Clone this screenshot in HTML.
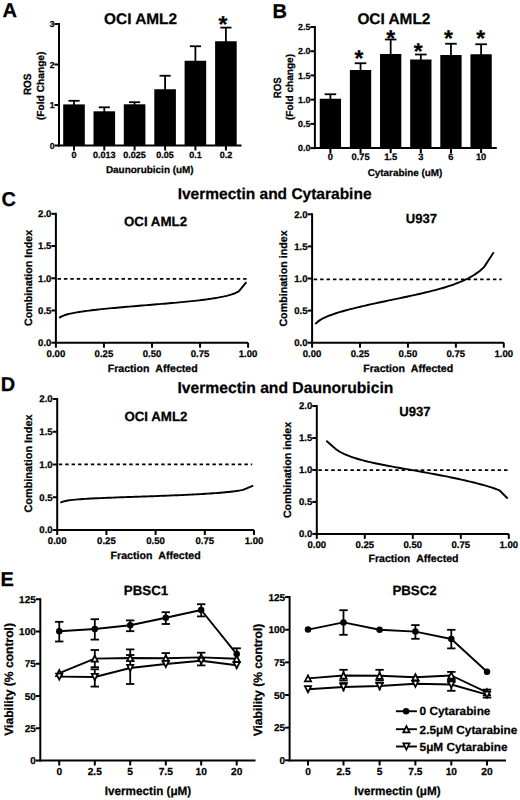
<!DOCTYPE html><html><head><meta charset="utf-8"><style>html,body{margin:0;padding:0;background:#fff;width:520px;height:800px;overflow:hidden}svg{display:block}text{font-family:"Liberation Sans", sans-serif;font-weight:bold;fill:#000;stroke:#000;stroke-width:0.25px;text-rendering:geometricPrecision}</style></head><body>
<svg width="520" height="800" viewBox="0 0 520 800" stroke="#000" stroke-linecap="butt">
<rect x="0" y="0" width="520" height="800" fill="#fff" stroke="none"/>
<g stroke="none">
<text x="2.6" y="17.1" font-size="20" text-anchor="start">A</text>
<text x="272.6" y="17.8" font-size="20" text-anchor="start">B</text>
<text x="1.5" y="205.9" font-size="20" text-anchor="start">C</text>
<text x="0.7" y="390.9" font-size="20" text-anchor="start">D</text>
<text x="0.4" y="585.8" font-size="20" text-anchor="start">E</text>
</g>
<g>
<line x1="59" y1="23" x2="59" y2="146.5" stroke-width="2"/>
<line x1="54.5" y1="145.5" x2="59" y2="145.5" stroke-width="2"/>
<text x="54.5" y="148.54" font-size="8.7" text-anchor="end">0</text>
<line x1="54.5" y1="105" x2="59" y2="105" stroke-width="2"/>
<text x="54.5" y="108.05" font-size="8.7" text-anchor="end">1</text>
<line x1="54.5" y1="64.5" x2="59" y2="64.5" stroke-width="2"/>
<text x="54.5" y="67.55" font-size="8.7" text-anchor="end">2</text>
<line x1="54.5" y1="24" x2="59" y2="24" stroke-width="2"/>
<text x="54.5" y="27.04" font-size="8.7" text-anchor="end">3</text>
<rect x="63.2" y="104.4" width="21.6" height="41.1" stroke="none"/>
<line x1="74" y1="100.8" x2="74" y2="105.4" stroke-width="1.8"/>
<line x1="68.4" y1="100.8" x2="79.6" y2="100.8" stroke-width="1.8"/>
<rect x="93.5" y="111.3" width="21.6" height="34.2" stroke="none"/>
<line x1="104.3" y1="107.3" x2="104.3" y2="112.3" stroke-width="1.8"/>
<line x1="98.7" y1="107.3" x2="109.9" y2="107.3" stroke-width="1.8"/>
<rect x="123.8" y="104.3" width="21.6" height="41.2" stroke="none"/>
<line x1="134.6" y1="102.2" x2="134.6" y2="105.3" stroke-width="1.8"/>
<line x1="129" y1="102.2" x2="140.2" y2="102.2" stroke-width="1.8"/>
<rect x="154.3" y="89.25" width="21.6" height="56.25" stroke="none"/>
<line x1="165.1" y1="75.75" x2="165.1" y2="90.25" stroke-width="1.8"/>
<line x1="159.5" y1="75.75" x2="170.7" y2="75.75" stroke-width="1.8"/>
<rect x="184.6" y="60.75" width="21.6" height="84.75" stroke="none"/>
<line x1="195.4" y1="46.25" x2="195.4" y2="61.75" stroke-width="1.8"/>
<line x1="189.8" y1="46.25" x2="201" y2="46.25" stroke-width="1.8"/>
<rect x="215.1" y="41.25" width="21.6" height="104.25" stroke="none"/>
<line x1="225.9" y1="27.6" x2="225.9" y2="42.25" stroke-width="1.8"/>
<line x1="220.3" y1="27.6" x2="231.5" y2="27.6" stroke-width="1.8"/>
<line x1="58" y1="145.5" x2="241.5" y2="145.5" stroke-width="2"/>
<line x1="74" y1="145.5" x2="74" y2="150.5" stroke-width="2"/>
<text x="74" y="158.2" font-size="9" text-anchor="middle">0</text>
<line x1="104.3" y1="145.5" x2="104.3" y2="150.5" stroke-width="2"/>
<text x="104.3" y="158.2" font-size="9" text-anchor="middle">0.013</text>
<line x1="134.6" y1="145.5" x2="134.6" y2="150.5" stroke-width="2"/>
<text x="134.6" y="158.2" font-size="9" text-anchor="middle">0.025</text>
<line x1="165.1" y1="145.5" x2="165.1" y2="150.5" stroke-width="2"/>
<text x="165.1" y="158.2" font-size="9" text-anchor="middle">0.05</text>
<line x1="195.4" y1="145.5" x2="195.4" y2="150.5" stroke-width="2"/>
<text x="195.4" y="158.2" font-size="9" text-anchor="middle">0.1</text>
<line x1="225.9" y1="145.5" x2="225.9" y2="150.5" stroke-width="2"/>
<text x="225.9" y="158.2" font-size="9" text-anchor="middle">0.2</text>
</g>
<g stroke="none">
<text x="104.1" y="24.2" font-size="15.4" text-anchor="start">OCI AML2</text>
<text x="218.4" y="31.79" font-size="23" text-anchor="start">*</text>
<text x="149.8" y="172.8" font-size="9.95" text-anchor="middle">Daunorubicin (uM)</text>
<text x="31.3" y="84.3" font-size="10.6" text-anchor="middle" transform="rotate(-90 31.3 84.3)" textLength="21.6" lengthAdjust="spacingAndGlyphs">ROS</text>
<text x="43.8" y="85.8" font-size="10.2" text-anchor="middle" transform="rotate(-90 43.8 85.8)">(Fold Change)</text>
</g>
<g>
<line x1="314.9" y1="26" x2="314.9" y2="149.1" stroke-width="2"/>
<line x1="310.4" y1="148.1" x2="314.9" y2="148.1" stroke-width="2"/>
<text x="310.4" y="151.22" font-size="8.9" text-anchor="end">0.0</text>
<line x1="310.4" y1="123.88" x2="314.9" y2="123.88" stroke-width="2"/>
<text x="310.4" y="126.99" font-size="8.9" text-anchor="end">0.5</text>
<line x1="310.4" y1="99.66" x2="314.9" y2="99.66" stroke-width="2"/>
<text x="310.4" y="102.77" font-size="8.9" text-anchor="end">1.0</text>
<line x1="310.4" y1="75.44" x2="314.9" y2="75.44" stroke-width="2"/>
<text x="310.4" y="78.55" font-size="8.9" text-anchor="end">1.5</text>
<line x1="310.4" y1="51.22" x2="314.9" y2="51.22" stroke-width="2"/>
<text x="310.4" y="54.34" font-size="8.9" text-anchor="end">2.0</text>
<line x1="310.4" y1="27" x2="314.9" y2="27" stroke-width="2"/>
<text x="310.4" y="30.11" font-size="8.9" text-anchor="end">2.5</text>
<rect x="319.75" y="98.75" width="21.3" height="49.35" stroke="none"/>
<line x1="330.4" y1="94.25" x2="330.4" y2="99.75" stroke-width="1.8"/>
<line x1="324.6" y1="94.25" x2="336.2" y2="94.25" stroke-width="1.8"/>
<rect x="349.89" y="70" width="21.3" height="78.1" stroke="none"/>
<line x1="360.54" y1="63.25" x2="360.54" y2="71" stroke-width="1.8"/>
<line x1="354.74" y1="63.25" x2="366.34" y2="63.25" stroke-width="1.8"/>
<rect x="380.03" y="54" width="21.3" height="94.1" stroke="none"/>
<line x1="390.68" y1="39.5" x2="390.68" y2="55" stroke-width="1.8"/>
<line x1="384.88" y1="39.5" x2="396.48" y2="39.5" stroke-width="1.8"/>
<rect x="410.17" y="59.5" width="21.3" height="88.6" stroke="none"/>
<line x1="420.82" y1="54.5" x2="420.82" y2="60.5" stroke-width="1.8"/>
<line x1="415.02" y1="54.5" x2="426.62" y2="54.5" stroke-width="1.8"/>
<rect x="440.31" y="55" width="21.3" height="93.1" stroke="none"/>
<line x1="450.96" y1="43.75" x2="450.96" y2="56" stroke-width="1.8"/>
<line x1="445.16" y1="43.75" x2="456.76" y2="43.75" stroke-width="1.8"/>
<rect x="470.45" y="54.25" width="21.3" height="93.85" stroke="none"/>
<line x1="481.1" y1="44.25" x2="481.1" y2="55.25" stroke-width="1.8"/>
<line x1="475.3" y1="44.25" x2="486.9" y2="44.25" stroke-width="1.8"/>
<line x1="313.9" y1="148.1" x2="496.75" y2="148.1" stroke-width="2"/>
<line x1="330.4" y1="148.1" x2="330.4" y2="153.1" stroke-width="2"/>
<text x="330.4" y="160.2" font-size="9.3" text-anchor="middle">0</text>
<line x1="360.54" y1="148.1" x2="360.54" y2="153.1" stroke-width="2"/>
<text x="360.54" y="160.2" font-size="9.3" text-anchor="middle">0.75</text>
<line x1="390.68" y1="148.1" x2="390.68" y2="153.1" stroke-width="2"/>
<text x="390.68" y="160.2" font-size="9.3" text-anchor="middle">1.5</text>
<line x1="420.82" y1="148.1" x2="420.82" y2="153.1" stroke-width="2"/>
<text x="420.82" y="160.2" font-size="9.3" text-anchor="middle">3</text>
<line x1="450.96" y1="148.1" x2="450.96" y2="153.1" stroke-width="2"/>
<text x="450.96" y="160.2" font-size="9.3" text-anchor="middle">6</text>
<line x1="481.1" y1="148.1" x2="481.1" y2="153.1" stroke-width="2"/>
<text x="481.1" y="160.2" font-size="9.3" text-anchor="middle">10</text>
</g>
<g stroke="none">
<text x="357.4" y="24.3" font-size="15.4" text-anchor="start">OCI AML2</text>
<text x="354.5" y="65.65" font-size="22.8" text-anchor="start">*</text>
<text x="386.25" y="45.65" font-size="22.8" text-anchor="start">*</text>
<text x="413.75" y="58.85" font-size="22.8" text-anchor="start">*</text>
<text x="443.9" y="45.65" font-size="22.8" text-anchor="start">*</text>
<text x="476.3" y="45.65" font-size="22.8" text-anchor="start">*</text>
<text x="405" y="175.6" font-size="9.9" text-anchor="middle">Cytarabine (uM)</text>
<text x="280.6" y="87.85" font-size="10.6" text-anchor="middle" transform="rotate(-90 280.6 87.85)" textLength="20.8" lengthAdjust="spacingAndGlyphs">ROS</text>
<text x="293.4" y="87" font-size="10.1" text-anchor="middle" transform="rotate(-90 293.4 87)">(Fold change)</text>
</g>
<g stroke="none">
<text x="177.7" y="198.9" font-size="15.5" text-anchor="start">Ivermectin and Cytarabine</text>
</g>
<g>
<line x1="55.9" y1="212.82" x2="55.9" y2="343.7" stroke-width="2"/>
<line x1="51.4" y1="342.7" x2="55.9" y2="342.7" stroke-width="2"/>
<text x="51.4" y="346.06" font-size="9.6" text-anchor="end">0.0</text>
<line x1="51.4" y1="310.48" x2="55.9" y2="310.48" stroke-width="2"/>
<text x="51.4" y="313.84" font-size="9.6" text-anchor="end">0.5</text>
<line x1="51.4" y1="278.26" x2="55.9" y2="278.26" stroke-width="2"/>
<text x="51.4" y="281.62" font-size="9.6" text-anchor="end">1.0</text>
<line x1="51.4" y1="246.04" x2="55.9" y2="246.04" stroke-width="2"/>
<text x="51.4" y="249.4" font-size="9.6" text-anchor="end">1.5</text>
<line x1="51.4" y1="213.82" x2="55.9" y2="213.82" stroke-width="2"/>
<text x="51.4" y="217.18" font-size="9.6" text-anchor="end">2.0</text>
<line x1="54.9" y1="342.7" x2="248.1" y2="342.7" stroke-width="2"/>
<line x1="55.9" y1="342.7" x2="55.9" y2="347.7" stroke-width="2"/>
<text x="55.9" y="356.6" font-size="9.6" text-anchor="middle">0.00</text>
<line x1="103.95" y1="342.7" x2="103.95" y2="347.7" stroke-width="2"/>
<text x="103.95" y="356.6" font-size="9.6" text-anchor="middle">0.25</text>
<line x1="152" y1="342.7" x2="152" y2="347.7" stroke-width="2"/>
<text x="152" y="356.6" font-size="9.6" text-anchor="middle">0.50</text>
<line x1="200.05" y1="342.7" x2="200.05" y2="347.7" stroke-width="2"/>
<text x="200.05" y="356.6" font-size="9.6" text-anchor="middle">0.75</text>
<line x1="248.1" y1="342.7" x2="248.1" y2="347.7" stroke-width="2"/>
<text x="248.1" y="356.6" font-size="9.6" text-anchor="middle">1.00</text>
<line x1="57.5" y1="278.9" x2="247.5" y2="278.9" stroke-width="1.7" stroke-dasharray="3.5 2.9"/>
<polyline points="59.2,317.86 61.7,316.33 64.2,315.3 66.7,314.52 69.2,313.87 71.7,313.32 74.2,312.82 76.7,312.38 79.2,311.97 81.7,311.59 84.2,311.23 86.7,310.9 89.2,310.58 91.7,310.27 94.2,309.98 96.7,309.7 99.2,309.43 101.7,309.16 104.2,308.9 106.7,308.65 109.2,308.41 111.7,308.17 114.2,307.94 116.7,307.71 119.2,307.48 121.7,307.26 124.2,307.04 126.7,306.82 129.2,306.61 131.7,306.4 134.2,306.18 136.7,305.98 139.2,305.77 141.7,305.56 144.2,305.35 146.7,305.15 149.2,304.94 151.7,304.74 154.2,304.53 156.7,304.32 159.2,304.12 161.7,303.91 164.2,303.7 166.7,303.48 169.2,303.27 171.7,303.05 174.2,302.83 176.7,302.6 179.2,302.38 181.7,302.14 184.2,301.91 186.7,301.66 189.2,301.41 191.7,301.15 194.2,300.89 196.7,300.61 199.2,300.33 201.7,300.03 204.2,299.72 206.7,299.39 209.2,299.05 211.7,298.68 214.2,298.29 216.7,297.88 219.2,297.43 221.7,296.94 224.2,296.41 226.7,295.82 229.2,295.15 231.7,294.39 234.2,293.51 236.7,292.45 238.8,291.36 246.4,282.1" fill="none" stroke-width="1.9" stroke-linejoin="round"/>
</g>
<g stroke="none">
<text x="124" y="226.2" font-size="13.3" text-anchor="start">OCI AML2</text>
<text x="31.8" y="278" font-size="10.7" text-anchor="middle" transform="rotate(-90 31.8 278)">Combination Index</text>
<text x="152.7" y="371.9" font-size="10.6" text-anchor="middle">Fraction&#160;&#160;Affected</text>
</g>
<g>
<line x1="312.1" y1="213.3" x2="312.1" y2="343.7" stroke-width="2"/>
<line x1="307.6" y1="342.7" x2="312.1" y2="342.7" stroke-width="2"/>
<text x="307.6" y="346.06" font-size="9.6" text-anchor="end">0.0</text>
<line x1="307.6" y1="310.6" x2="312.1" y2="310.6" stroke-width="2"/>
<text x="307.6" y="313.96" font-size="9.6" text-anchor="end">0.5</text>
<line x1="307.6" y1="278.5" x2="312.1" y2="278.5" stroke-width="2"/>
<text x="307.6" y="281.86" font-size="9.6" text-anchor="end">1.0</text>
<line x1="307.6" y1="246.4" x2="312.1" y2="246.4" stroke-width="2"/>
<text x="307.6" y="249.76" font-size="9.6" text-anchor="end">1.5</text>
<line x1="307.6" y1="214.3" x2="312.1" y2="214.3" stroke-width="2"/>
<text x="307.6" y="217.66" font-size="9.6" text-anchor="end">2.0</text>
<line x1="311.1" y1="342.7" x2="503.8" y2="342.7" stroke-width="2"/>
<line x1="312.1" y1="342.7" x2="312.1" y2="347.7" stroke-width="2"/>
<text x="312.1" y="356.6" font-size="9.6" text-anchor="middle">0.00</text>
<line x1="360.03" y1="342.7" x2="360.03" y2="347.7" stroke-width="2"/>
<text x="360.03" y="356.6" font-size="9.6" text-anchor="middle">0.25</text>
<line x1="407.95" y1="342.7" x2="407.95" y2="347.7" stroke-width="2"/>
<text x="407.95" y="356.6" font-size="9.6" text-anchor="middle">0.50</text>
<line x1="455.88" y1="342.7" x2="455.88" y2="347.7" stroke-width="2"/>
<text x="455.88" y="356.6" font-size="9.6" text-anchor="middle">0.75</text>
<line x1="503.8" y1="342.7" x2="503.8" y2="347.7" stroke-width="2"/>
<text x="503.8" y="356.6" font-size="9.6" text-anchor="middle">1.00</text>
<line x1="313.7" y1="279.4" x2="501.7" y2="279.4" stroke-width="1.7" stroke-dasharray="3.5 2.9"/>
<polyline points="315.3,324.15 317.8,321.63 320.3,319.87 322.8,318.47 325.3,317.27 327.8,316.21 330.3,315.24 332.8,314.35 335.3,313.51 337.8,312.71 340.3,311.96 342.8,311.23 345.3,310.53 347.8,309.86 350.3,309.2 352.8,308.56 355.3,307.94 357.8,307.33 360.3,306.73 362.8,306.15 365.3,305.57 367.8,305 370.3,304.44 372.8,303.89 375.3,303.34 377.8,302.8 380.3,302.27 382.8,301.74 385.3,301.21 387.8,300.68 390.3,300.15 392.8,299.63 395.3,299.11 397.8,298.58 400.3,298.06 402.8,297.53 405.3,297 407.8,296.46 410.3,295.93 412.8,295.38 415.3,294.83 417.8,294.27 420.3,293.71 422.8,293.13 425.3,292.54 427.8,291.94 430.3,291.33 432.8,290.7 435.3,290.05 437.8,289.38 440.3,288.68 442.8,287.97 445.3,287.22 447.8,286.45 450.3,285.63 452.8,284.78 455.3,283.89 457.8,282.94 460.3,281.94 462.8,280.87 465.3,279.72 467.8,278.5 470.3,277.17 472.8,275.73 475.3,274.14 477.8,272.4 480.3,270.46 482.8,268.27 484,267.11 493.7,252.3" fill="none" stroke-width="1.9" stroke-linejoin="round"/>
</g>
<g stroke="none">
<text x="405.7" y="223.1" font-size="13.1" text-anchor="start">U937</text>
<text x="287.2" y="278.5" font-size="10.7" text-anchor="middle" transform="rotate(-90 287.2 278.5)">Combination index</text>
<text x="408.2" y="371.9" font-size="10.6" text-anchor="middle">Fraction&#160;&#160;Affected</text>
</g>
<g stroke="none">
<text x="177.4" y="393.4" font-size="15.68" text-anchor="start">Ivermectin and Daunorubicin</text>
</g>
<g>
<line x1="57.2" y1="398" x2="57.2" y2="531" stroke-width="2"/>
<line x1="52.7" y1="530" x2="57.2" y2="530" stroke-width="2"/>
<text x="52.7" y="533.36" font-size="9.6" text-anchor="end">0.0</text>
<line x1="52.7" y1="497.25" x2="57.2" y2="497.25" stroke-width="2"/>
<text x="52.7" y="500.61" font-size="9.6" text-anchor="end">0.5</text>
<line x1="52.7" y1="464.5" x2="57.2" y2="464.5" stroke-width="2"/>
<text x="52.7" y="467.86" font-size="9.6" text-anchor="end">1.0</text>
<line x1="52.7" y1="431.75" x2="57.2" y2="431.75" stroke-width="2"/>
<text x="52.7" y="435.11" font-size="9.6" text-anchor="end">1.5</text>
<line x1="52.7" y1="399" x2="57.2" y2="399" stroke-width="2"/>
<text x="52.7" y="402.36" font-size="9.6" text-anchor="end">2.0</text>
<line x1="56.2" y1="530" x2="254" y2="530" stroke-width="2"/>
<line x1="57.2" y1="530" x2="57.2" y2="535" stroke-width="2"/>
<text x="57.2" y="544.4" font-size="9.6" text-anchor="middle">0.00</text>
<line x1="106.4" y1="530" x2="106.4" y2="535" stroke-width="2"/>
<text x="106.4" y="544.4" font-size="9.6" text-anchor="middle">0.25</text>
<line x1="155.6" y1="530" x2="155.6" y2="535" stroke-width="2"/>
<text x="155.6" y="544.4" font-size="9.6" text-anchor="middle">0.50</text>
<line x1="204.8" y1="530" x2="204.8" y2="535" stroke-width="2"/>
<text x="204.8" y="544.4" font-size="9.6" text-anchor="middle">0.75</text>
<line x1="254" y1="530" x2="254" y2="535" stroke-width="2"/>
<text x="254" y="544.4" font-size="9.6" text-anchor="middle">1.00</text>
<line x1="58.8" y1="464.3" x2="252.2" y2="464.3" stroke-width="1.7" stroke-dasharray="3.5 2.9"/>
<polyline points="60.4,502.67 62.9,501.65 65.4,501.01 67.9,500.55 70.4,500.18 72.9,499.88 75.4,499.62 77.9,499.4 80.4,499.2 82.9,499.03 85.4,498.86 87.9,498.71 90.4,498.57 92.9,498.44 95.4,498.32 97.9,498.2 100.4,498.09 102.9,497.99 105.4,497.88 107.9,497.78 110.4,497.69 112.9,497.59 115.4,497.5 117.9,497.41 120.4,497.32 122.9,497.23 125.4,497.14 127.9,497.05 130.4,496.97 132.9,496.88 135.4,496.79 137.9,496.71 140.4,496.62 142.9,496.53 145.4,496.45 147.9,496.36 150.4,496.27 152.9,496.18 155.4,496.09 157.9,495.99 160.4,495.9 162.9,495.81 165.4,495.71 167.9,495.61 170.4,495.51 172.9,495.41 175.4,495.3 177.9,495.2 180.4,495.09 182.9,494.97 185.4,494.86 187.9,494.74 190.4,494.62 192.9,494.49 195.4,494.36 197.9,494.23 200.4,494.09 202.9,493.94 205.4,493.79 207.9,493.64 210.4,493.48 212.9,493.3 215.4,493.13 217.9,492.94 220.4,492.74 222.9,492.52 225.4,492.29 227.9,492.05 230.4,491.78 232.9,491.49 235.4,491.17 237.9,490.8 240.4,490.38 242.9,489.89 243.1,489.84 253.2,485.6" fill="none" stroke-width="1.9" stroke-linejoin="round"/>
</g>
<g stroke="none">
<text x="124.4" y="420.5" font-size="13.3" text-anchor="start">OCI AML2</text>
<text x="32.4" y="463.5" font-size="10.9" text-anchor="middle" transform="rotate(-90 32.4 463.5)">Combination Index</text>
<text x="155.6" y="558.8" font-size="10.6" text-anchor="middle">Fraction&#160;&#160;Affected</text>
</g>
<g>
<line x1="316.8" y1="405.02" x2="316.8" y2="534.9" stroke-width="2"/>
<line x1="312.3" y1="533.9" x2="316.8" y2="533.9" stroke-width="2"/>
<text x="312.3" y="537.26" font-size="9.6" text-anchor="end">0.0</text>
<line x1="312.3" y1="501.93" x2="316.8" y2="501.93" stroke-width="2"/>
<text x="312.3" y="505.29" font-size="9.6" text-anchor="end">0.5</text>
<line x1="312.3" y1="469.96" x2="316.8" y2="469.96" stroke-width="2"/>
<text x="312.3" y="473.32" font-size="9.6" text-anchor="end">1.0</text>
<line x1="312.3" y1="437.99" x2="316.8" y2="437.99" stroke-width="2"/>
<text x="312.3" y="441.35" font-size="9.6" text-anchor="end">1.5</text>
<line x1="312.3" y1="406.02" x2="316.8" y2="406.02" stroke-width="2"/>
<text x="312.3" y="409.38" font-size="9.6" text-anchor="end">2.0</text>
<line x1="315.8" y1="533.9" x2="508.8" y2="533.9" stroke-width="2"/>
<line x1="316.8" y1="533.9" x2="316.8" y2="538.9" stroke-width="2"/>
<text x="316.8" y="548.3" font-size="9.6" text-anchor="middle">0.00</text>
<line x1="364.8" y1="533.9" x2="364.8" y2="538.9" stroke-width="2"/>
<text x="364.8" y="548.3" font-size="9.6" text-anchor="middle">0.25</text>
<line x1="412.8" y1="533.9" x2="412.8" y2="538.9" stroke-width="2"/>
<text x="412.8" y="548.3" font-size="9.6" text-anchor="middle">0.50</text>
<line x1="460.8" y1="533.9" x2="460.8" y2="538.9" stroke-width="2"/>
<text x="460.8" y="548.3" font-size="9.6" text-anchor="middle">0.75</text>
<line x1="508.8" y1="533.9" x2="508.8" y2="538.9" stroke-width="2"/>
<text x="508.8" y="548.3" font-size="9.6" text-anchor="middle">1.00</text>
<line x1="318.4" y1="470.2" x2="508.3" y2="470.2" stroke-width="1.7" stroke-dasharray="3.5 2.9"/>
<polyline points="326.3,440.8 336.3,449.49 338.8,451.1 341.3,452.5 343.8,453.76 346.3,454.88 348.8,455.91 351.3,456.84 353.8,457.71 356.3,458.51 358.8,459.26 361.3,459.96 363.8,460.62 366.3,461.26 368.8,461.86 371.3,462.43 373.8,462.98 376.3,463.52 378.8,464.04 381.3,464.54 383.8,465.03 386.3,465.51 388.8,465.97 391.3,466.44 393.8,466.89 396.3,467.34 398.8,467.79 401.3,468.23 403.8,468.67 406.3,469.11 408.8,469.55 411.3,469.98 413.8,470.42 416.3,470.86 418.8,471.3 421.3,471.75 423.8,472.2 426.3,472.65 428.8,473.1 431.3,473.56 433.8,474.03 436.3,474.5 438.8,474.97 441.3,475.45 443.8,475.94 446.3,476.44 448.8,476.94 451.3,477.46 453.8,477.98 456.3,478.51 458.8,479.05 461.3,479.6 463.8,480.16 466.3,480.73 468.8,481.32 471.3,481.92 473.8,482.53 476.3,483.16 478.8,483.81 481.3,484.48 483.8,485.18 486.3,485.89 488.8,486.64 491.3,487.43 493.8,488.27 496.3,489.16 498.8,490.14 499.6,490.48 507.7,498.5" fill="none" stroke-width="1.9" stroke-linejoin="round"/>
</g>
<g stroke="none">
<text x="399.2" y="415.7" font-size="13.1" text-anchor="start">U937</text>
<text x="290.6" y="470" font-size="10.7" text-anchor="middle" transform="rotate(-90 290.6 470)">Combination index</text>
<text x="413.5" y="561.8" font-size="10.6" text-anchor="middle">Fraction&#160;&#160;Affected</text>
</g>
<g>
<line x1="40.3" y1="598.25" x2="40.3" y2="761.5" stroke-width="2"/>
<line x1="35.8" y1="760.5" x2="40.3" y2="760.5" stroke-width="2"/>
<text x="35.8" y="764" font-size="10" text-anchor="end">0</text>
<line x1="35.8" y1="728.25" x2="40.3" y2="728.25" stroke-width="2"/>
<text x="35.8" y="731.75" font-size="10" text-anchor="end">25</text>
<line x1="35.8" y1="696" x2="40.3" y2="696" stroke-width="2"/>
<text x="35.8" y="699.5" font-size="10" text-anchor="end">50</text>
<line x1="35.8" y1="663.75" x2="40.3" y2="663.75" stroke-width="2"/>
<text x="35.8" y="667.25" font-size="10" text-anchor="end">75</text>
<line x1="35.8" y1="631.5" x2="40.3" y2="631.5" stroke-width="2"/>
<text x="35.8" y="635" font-size="10" text-anchor="end">100</text>
<line x1="35.8" y1="599.25" x2="40.3" y2="599.25" stroke-width="2"/>
<text x="35.8" y="602.75" font-size="10" text-anchor="end">125</text>
<line x1="39.3" y1="760.5" x2="255.5" y2="760.5" stroke-width="2"/>
<line x1="59.25" y1="760.5" x2="59.25" y2="765.5" stroke-width="2"/>
<text x="59.25" y="775.4" font-size="10.2" text-anchor="middle">0</text>
<line x1="94.8" y1="760.5" x2="94.8" y2="765.5" stroke-width="2"/>
<text x="94.8" y="775.4" font-size="10.2" text-anchor="middle">2.5</text>
<line x1="130.2" y1="760.5" x2="130.2" y2="765.5" stroke-width="2"/>
<text x="130.2" y="775.4" font-size="10.2" text-anchor="middle">5</text>
<line x1="165.8" y1="760.5" x2="165.8" y2="765.5" stroke-width="2"/>
<text x="165.8" y="775.4" font-size="10.2" text-anchor="middle">7.5</text>
<line x1="201.2" y1="760.5" x2="201.2" y2="765.5" stroke-width="2"/>
<text x="201.2" y="775.4" font-size="10.2" text-anchor="middle">10</text>
<line x1="236.7" y1="760.5" x2="236.7" y2="765.5" stroke-width="2"/>
<text x="236.7" y="775.4" font-size="10.2" text-anchor="middle">20</text>
<polyline points="59.25,631.2 94.8,629 130.2,625.2 165.8,617.8 201.2,610 236.7,654.1" fill="none" stroke-width="1.9" stroke-linejoin="round"/>
<polyline points="59.25,673.1 94.8,658.6 130.2,658 165.8,658.3 201.2,657.4 236.7,658.8" fill="none" stroke-width="1.9" stroke-linejoin="round"/>
<polyline points="59.25,676.6 94.8,677 130.2,668 165.8,664 201.2,660.8 236.7,665.2" fill="none" stroke-width="1.9" stroke-linejoin="round"/>
<line x1="59.25" y1="621.8" x2="59.25" y2="641.5" stroke-width="1.8"/>
<line x1="55.05" y1="621.8" x2="63.45" y2="621.8" stroke-width="1.8"/>
<line x1="55.05" y1="641.5" x2="63.45" y2="641.5" stroke-width="1.8"/>
<line x1="94.8" y1="619.2" x2="94.8" y2="639.6" stroke-width="1.8"/>
<line x1="90.6" y1="619.2" x2="99" y2="619.2" stroke-width="1.8"/>
<line x1="90.6" y1="639.6" x2="99" y2="639.6" stroke-width="1.8"/>
<line x1="94.8" y1="650" x2="94.8" y2="667.2" stroke-width="1.8"/>
<line x1="90.6" y1="650" x2="99" y2="650" stroke-width="1.8"/>
<line x1="90.6" y1="667.2" x2="99" y2="667.2" stroke-width="1.8"/>
<line x1="94.8" y1="669.3" x2="94.8" y2="686.6" stroke-width="1.8"/>
<line x1="90.6" y1="669.3" x2="99" y2="669.3" stroke-width="1.8"/>
<line x1="90.6" y1="686.6" x2="99" y2="686.6" stroke-width="1.8"/>
<line x1="130.2" y1="620.4" x2="130.2" y2="631.2" stroke-width="1.8"/>
<line x1="126" y1="620.4" x2="134.4" y2="620.4" stroke-width="1.8"/>
<line x1="126" y1="631.2" x2="134.4" y2="631.2" stroke-width="1.8"/>
<line x1="130.2" y1="649.4" x2="130.2" y2="661" stroke-width="1.8"/>
<line x1="126" y1="649.4" x2="134.4" y2="649.4" stroke-width="1.8"/>
<line x1="126" y1="661" x2="134.4" y2="661" stroke-width="1.8"/>
<line x1="130.2" y1="655" x2="130.2" y2="684" stroke-width="1.8"/>
<line x1="126" y1="655" x2="134.4" y2="655" stroke-width="1.8"/>
<line x1="126" y1="684" x2="134.4" y2="684" stroke-width="1.8"/>
<line x1="165.8" y1="612.2" x2="165.8" y2="624" stroke-width="1.8"/>
<line x1="161.6" y1="612.2" x2="170" y2="612.2" stroke-width="1.8"/>
<line x1="161.6" y1="624" x2="170" y2="624" stroke-width="1.8"/>
<line x1="165.8" y1="653.1" x2="165.8" y2="658" stroke-width="1.8"/>
<line x1="161.6" y1="653.1" x2="170" y2="653.1" stroke-width="1.8"/>
<line x1="201.2" y1="604.2" x2="201.2" y2="616.4" stroke-width="1.8"/>
<line x1="197" y1="604.2" x2="205.4" y2="604.2" stroke-width="1.8"/>
<line x1="197" y1="616.4" x2="205.4" y2="616.4" stroke-width="1.8"/>
<line x1="201.2" y1="652.7" x2="201.2" y2="658" stroke-width="1.8"/>
<line x1="197" y1="652.7" x2="205.4" y2="652.7" stroke-width="1.8"/>
<line x1="201.2" y1="660" x2="201.2" y2="665.4" stroke-width="1.8"/>
<line x1="197" y1="665.4" x2="205.4" y2="665.4" stroke-width="1.8"/>
<line x1="236.7" y1="648.3" x2="236.7" y2="656" stroke-width="1.8"/>
<line x1="232.5" y1="648.3" x2="240.9" y2="648.3" stroke-width="1.8"/>
<polygon points="59.25,670.05 62.35,676.15 56.15,676.15" fill="#fff" stroke-width="1.75" stroke-linejoin="miter"/>
<polygon points="59.25,679.65 62.35,673.55 56.15,673.55" fill="#fff" stroke-width="1.75" stroke-linejoin="miter"/>
<circle cx="59.25" cy="631.2" r="3.25" fill="#000" stroke="none"/>
<polygon points="94.8,655.55 97.9,661.65 91.7,661.65" fill="#fff" stroke-width="1.75" stroke-linejoin="miter"/>
<polygon points="94.8,680.05 97.9,673.95 91.7,673.95" fill="#fff" stroke-width="1.75" stroke-linejoin="miter"/>
<circle cx="94.8" cy="629" r="3.25" fill="#000" stroke="none"/>
<polygon points="130.2,654.95 133.3,661.05 127.1,661.05" fill="#fff" stroke-width="1.75" stroke-linejoin="miter"/>
<polygon points="130.2,671.05 133.3,664.95 127.1,664.95" fill="#fff" stroke-width="1.75" stroke-linejoin="miter"/>
<circle cx="130.2" cy="625.2" r="3.25" fill="#000" stroke="none"/>
<polygon points="165.8,655.25 168.9,661.35 162.7,661.35" fill="#fff" stroke-width="1.75" stroke-linejoin="miter"/>
<polygon points="165.8,667.05 168.9,660.95 162.7,660.95" fill="#fff" stroke-width="1.75" stroke-linejoin="miter"/>
<circle cx="165.8" cy="617.8" r="3.25" fill="#000" stroke="none"/>
<polygon points="201.2,654.35 204.3,660.45 198.1,660.45" fill="#fff" stroke-width="1.75" stroke-linejoin="miter"/>
<polygon points="201.2,663.85 204.3,657.75 198.1,657.75" fill="#fff" stroke-width="1.75" stroke-linejoin="miter"/>
<circle cx="201.2" cy="610" r="3.25" fill="#000" stroke="none"/>
<polygon points="236.7,655.75 239.8,661.85 233.6,661.85" fill="#fff" stroke-width="1.75" stroke-linejoin="miter"/>
<polygon points="236.7,668.25 239.8,662.15 233.6,662.15" fill="#fff" stroke-width="1.75" stroke-linejoin="miter"/>
<circle cx="236.7" cy="654.1" r="3.25" fill="#000" stroke="none"/>
</g>
<g stroke="none">
<text x="123.8" y="595.1" font-size="13.3" text-anchor="start">PBSC1</text>
<text x="12.8" y="679.4" font-size="12.1" text-anchor="middle" transform="rotate(-90 12.8 679.4)">Viability (% control)</text>
<text x="148" y="795.4" font-size="12.1" text-anchor="middle" textLength="86.4" lengthAdjust="spacingAndGlyphs">Ivermectin (&#956;M)</text>
</g>
<g>
<line x1="289.6" y1="596.05" x2="289.6" y2="761.3" stroke-width="2"/>
<line x1="285.1" y1="760.3" x2="289.6" y2="760.3" stroke-width="2"/>
<text x="285.1" y="763.8" font-size="10" text-anchor="end">0</text>
<line x1="285.1" y1="727.65" x2="289.6" y2="727.65" stroke-width="2"/>
<text x="285.1" y="731.15" font-size="10" text-anchor="end">25</text>
<line x1="285.1" y1="695" x2="289.6" y2="695" stroke-width="2"/>
<text x="285.1" y="698.5" font-size="10" text-anchor="end">50</text>
<line x1="285.1" y1="662.35" x2="289.6" y2="662.35" stroke-width="2"/>
<text x="285.1" y="665.85" font-size="10" text-anchor="end">75</text>
<line x1="285.1" y1="629.7" x2="289.6" y2="629.7" stroke-width="2"/>
<text x="285.1" y="633.2" font-size="10" text-anchor="end">100</text>
<line x1="285.1" y1="597.05" x2="289.6" y2="597.05" stroke-width="2"/>
<text x="285.1" y="600.55" font-size="10" text-anchor="end">125</text>
<line x1="288.6" y1="760.5" x2="506" y2="760.5" stroke-width="2"/>
<line x1="308" y1="760.5" x2="308" y2="765.5" stroke-width="2"/>
<text x="308" y="775.4" font-size="10.2" text-anchor="middle">0</text>
<line x1="343.5" y1="760.5" x2="343.5" y2="765.5" stroke-width="2"/>
<text x="343.5" y="775.4" font-size="10.2" text-anchor="middle">2.5</text>
<line x1="379.6" y1="760.5" x2="379.6" y2="765.5" stroke-width="2"/>
<text x="379.6" y="775.4" font-size="10.2" text-anchor="middle">5</text>
<line x1="415.4" y1="760.5" x2="415.4" y2="765.5" stroke-width="2"/>
<text x="415.4" y="775.4" font-size="10.2" text-anchor="middle">7.5</text>
<line x1="451.3" y1="760.5" x2="451.3" y2="765.5" stroke-width="2"/>
<text x="451.3" y="775.4" font-size="10.2" text-anchor="middle">10</text>
<line x1="487" y1="760.5" x2="487" y2="765.5" stroke-width="2"/>
<text x="487" y="775.4" font-size="10.2" text-anchor="middle">20</text>
<polyline points="308,629.6 343.5,622.4 379.6,629.8 415.4,631.6 451.3,639 487,671.8" fill="none" stroke-width="1.9" stroke-linejoin="round"/>
<polyline points="308,678.4 343.5,675.5 379.6,675.8 415.4,677.3 451.3,675.5 487,692.3" fill="none" stroke-width="1.9" stroke-linejoin="round"/>
<polyline points="308,689.2 343.5,687 379.6,686 415.4,683.8 451.3,684.5 487,694.6" fill="none" stroke-width="1.9" stroke-linejoin="round"/>
<line x1="343.5" y1="610.2" x2="343.5" y2="634.8" stroke-width="1.8"/>
<line x1="339.3" y1="610.2" x2="347.7" y2="610.2" stroke-width="1.8"/>
<line x1="339.3" y1="634.8" x2="347.7" y2="634.8" stroke-width="1.8"/>
<line x1="343.5" y1="669.8" x2="343.5" y2="680.5" stroke-width="1.8"/>
<line x1="339.3" y1="669.8" x2="347.7" y2="669.8" stroke-width="1.8"/>
<line x1="339.3" y1="680.5" x2="347.7" y2="680.5" stroke-width="1.8"/>
<line x1="343.5" y1="683" x2="343.5" y2="691.5" stroke-width="1.8"/>
<line x1="339.3" y1="683" x2="347.7" y2="683" stroke-width="1.8"/>
<line x1="379.6" y1="669.8" x2="379.6" y2="680.5" stroke-width="1.8"/>
<line x1="375.4" y1="669.8" x2="383.8" y2="669.8" stroke-width="1.8"/>
<line x1="375.4" y1="680.5" x2="383.8" y2="680.5" stroke-width="1.8"/>
<line x1="379.6" y1="683" x2="379.6" y2="690.5" stroke-width="1.8"/>
<line x1="375.4" y1="683" x2="383.8" y2="683" stroke-width="1.8"/>
<line x1="415.4" y1="625.1" x2="415.4" y2="638.8" stroke-width="1.8"/>
<line x1="411.2" y1="625.1" x2="419.6" y2="625.1" stroke-width="1.8"/>
<line x1="411.2" y1="638.8" x2="419.6" y2="638.8" stroke-width="1.8"/>
<line x1="451.3" y1="629.8" x2="451.3" y2="648.4" stroke-width="1.8"/>
<line x1="447.1" y1="629.8" x2="455.5" y2="629.8" stroke-width="1.8"/>
<line x1="447.1" y1="648.4" x2="455.5" y2="648.4" stroke-width="1.8"/>
<line x1="451.3" y1="671.9" x2="451.3" y2="680" stroke-width="1.8"/>
<line x1="447.1" y1="671.9" x2="455.5" y2="671.9" stroke-width="1.8"/>
<line x1="447.1" y1="680" x2="455.5" y2="680" stroke-width="1.8"/>
<line x1="451.3" y1="682" x2="451.3" y2="690.8" stroke-width="1.8"/>
<line x1="447.1" y1="682" x2="455.5" y2="682" stroke-width="1.8"/>
<line x1="447.1" y1="690.8" x2="455.5" y2="690.8" stroke-width="1.8"/>
<line x1="487" y1="689.6" x2="487" y2="697.6" stroke-width="1.8"/>
<line x1="482.8" y1="689.6" x2="491.2" y2="689.6" stroke-width="1.8"/>
<line x1="482.8" y1="697.6" x2="491.2" y2="697.6" stroke-width="1.8"/>
<polygon points="308,675.35 311.1,681.45 304.9,681.45" fill="#fff" stroke-width="1.75" stroke-linejoin="miter"/>
<polygon points="308,692.25 311.1,686.15 304.9,686.15" fill="#fff" stroke-width="1.75" stroke-linejoin="miter"/>
<circle cx="308" cy="629.6" r="3.25" fill="#000" stroke="none"/>
<polygon points="343.5,672.45 346.6,678.55 340.4,678.55" fill="#fff" stroke-width="1.75" stroke-linejoin="miter"/>
<polygon points="343.5,690.05 346.6,683.95 340.4,683.95" fill="#fff" stroke-width="1.75" stroke-linejoin="miter"/>
<circle cx="343.5" cy="622.4" r="3.25" fill="#000" stroke="none"/>
<polygon points="379.6,672.75 382.7,678.85 376.5,678.85" fill="#fff" stroke-width="1.75" stroke-linejoin="miter"/>
<polygon points="379.6,689.05 382.7,682.95 376.5,682.95" fill="#fff" stroke-width="1.75" stroke-linejoin="miter"/>
<circle cx="379.6" cy="629.8" r="3.25" fill="#000" stroke="none"/>
<polygon points="415.4,674.25 418.5,680.35 412.3,680.35" fill="#fff" stroke-width="1.75" stroke-linejoin="miter"/>
<polygon points="415.4,686.85 418.5,680.75 412.3,680.75" fill="#fff" stroke-width="1.75" stroke-linejoin="miter"/>
<circle cx="415.4" cy="631.6" r="3.25" fill="#000" stroke="none"/>
<polygon points="451.3,672.45 454.4,678.55 448.2,678.55" fill="#fff" stroke-width="1.75" stroke-linejoin="miter"/>
<polygon points="451.3,687.55 454.4,681.45 448.2,681.45" fill="#fff" stroke-width="1.75" stroke-linejoin="miter"/>
<circle cx="451.3" cy="639" r="3.25" fill="#000" stroke="none"/>
<polygon points="487,689.25 490.1,695.35 483.9,695.35" fill="#fff" stroke-width="1.75" stroke-linejoin="miter"/>
<polygon points="487,697.65 490.1,691.55 483.9,691.55" fill="#fff" stroke-width="1.75" stroke-linejoin="miter"/>
<circle cx="487" cy="671.8" r="3.25" fill="#000" stroke="none"/>
</g>
<g stroke="none">
<text x="392.4" y="594.9" font-size="13.3" text-anchor="start">PBSC2</text>
<text x="261.8" y="680" font-size="12.1" text-anchor="middle" transform="rotate(-90 261.8 680)">Viability (% control)</text>
<text x="397.4" y="795.4" font-size="12.1" text-anchor="middle" textLength="86.4" lengthAdjust="spacingAndGlyphs">Ivermectin (&#956;M)</text>
</g>
<g>
<line x1="395.9" y1="711.25" x2="416.9" y2="711.25" stroke-width="1.9"/>
<circle cx="406.1" cy="711.25" r="3.25" fill="#000" stroke="none"/>
<line x1="395.9" y1="729.2" x2="416.9" y2="729.2" stroke-width="1.9"/>
<polygon points="406.4,726.15 409.5,732.25 403.3,732.25" fill="#fff" stroke-width="1.75" stroke-linejoin="miter"/>
<line x1="395.9" y1="746.5" x2="416.9" y2="746.5" stroke-width="1.9"/>
<polygon points="406.4,749.55 409.5,743.45 403.3,743.45" fill="#fff" stroke-width="1.75" stroke-linejoin="miter"/>
</g>
<g stroke="none">
<text x="419.6" y="715.1" font-size="11.8" text-anchor="start">0 Cytarabine</text>
<text x="419.6" y="733.9" font-size="11.8" text-anchor="start">2.5&#956;M Cytarabine</text>
<text x="419.6" y="750.5" font-size="11.8" text-anchor="start">5&#956;M Cytarabine</text>
</g>
</svg></body></html>
